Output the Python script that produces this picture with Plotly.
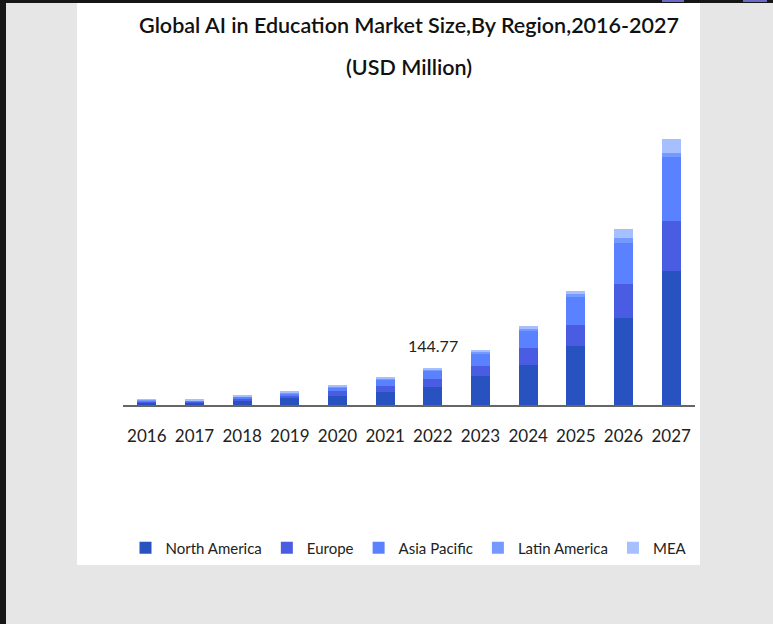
import plotly.graph_objects as go

years = ["2016", "2017", "2018", "2019", "2020", "2021", "2022", "2023", "2024", "2025", "2026", "2027"]
north_america = [10.5, 9.5, 18, 26, 36, 49, 70.5, 112, 155, 228, 339, 521]
europe = [4, 4, 7, 10, 17, 26, 29.5, 39, 65, 84, 129, 194]
asia_pacific = [4, 3.5, 7, 10, 16, 23, 32, 50, 67, 107, 162, 248]
latin_america = [1.3, 1.2, 2, 3, 3, 4, 6, 6, 8, 10, 19, 15.5]
mea = [1.2, 1.3, 2, 3, 3.5, 5, 6.77, 7, 10, 13, 32, 55.5]
series_names = ["North America", "Europe", "Asia Pacific", "Latin America", "MEA"]
series_values = [north_america, europe, asia_pacific, latin_america, mea]
colors = ["#2852C0", "#4A5CE2", "#5A82FF", "#749AFF", "#A6BFFF"]
label_year = "2022"
title_line1 = "Global AI in Education Market Size,By Region,2016-2027"
title_line2 = "(USD Million)"

FONT = "Lato, Roboto, sans-serif"

W_FIG, H_FIG = 773, 624
L, R, T, B = 123, 695, 120, 405
PW, PH = R - L, B - T


def px2x(px):
    return (px - L) / PW


def py2y(py):
    return (B - py) / PH


fig = go.Figure()
for name, vals, col in zip(series_names, series_values, colors):
    fig.add_trace(go.Bar(x=years, y=vals, name=name, marker=dict(color=col, line=dict(width=0))))

idx = years.index(label_year)
total = sum(s[idx] for s in series_values)
fig.add_annotation(xref="x", yref="y", x=idx, y=total, text=f"{total:.2f}", showarrow=False,
                   yanchor="bottom", yshift=11, font=dict(family=FONT, size=16, color="#222"))
fig.add_annotation(xref="paper", yref="paper", x=0.5, y=py2y(67), text=title_line2, showarrow=False,
                   xanchor="center", yanchor="middle",
                   font=dict(family=FONT, size=21.5, color="#111", weight=600))

shapes = [
    dict(type="rect", xref="paper", yref="paper", x0=px2x(77), x1=px2x(700), y0=py2y(565), y1=py2y(3),
         fillcolor="white", line=dict(width=0), layer="below"),
    dict(type="rect", xref="paper", yref="paper", x0=px2x(0), x1=px2x(6), y0=py2y(624), y1=py2y(0),
         fillcolor="#161616", line=dict(width=0), layer="above"),
    dict(type="rect", xref="paper", yref="paper", x0=px2x(0), x1=px2x(773), y0=py2y(3), y1=py2y(0),
         fillcolor="#161616", line=dict(width=0), layer="above"),
    dict(type="rect", xref="paper", yref="paper", x0=px2x(662), x1=px2x(684), y0=py2y(2), y1=py2y(0),
         fillcolor="#6b6bc6", line=dict(width=0), layer="above"),
    dict(type="rect", xref="paper", yref="paper", x0=px2x(743), x1=px2x(767), y0=py2y(2), y1=py2y(0),
         fillcolor="#6b6bc6", line=dict(width=0), layer="above"),
]

fig.update_layout(
    width=W_FIG, height=H_FIG,
    margin=dict(l=L, r=W_FIG - R, t=T, b=H_FIG - B, pad=0),
    paper_bgcolor="#e6e6e6", plot_bgcolor="rgba(0,0,0,0)",
    barmode="stack", bargap=0.6,
    shapes=shapes,
    title=dict(text=title_line1,
               x=0.5, xref="paper", xanchor="center", y=1 - 25 / H_FIG, yref="container", yanchor="middle",
               font=dict(family=FONT, size=21.5, color="#111", weight=600)),
    xaxis=dict(type="category", range=[-0.5, len(years) - 0.5], showline=True, linecolor="#666",
               linewidth=1.5, ticks="", showgrid=False, ticklabelstandoff=15,
               tickfont=dict(family=FONT, size=17, color="#222")),
    yaxis=dict(visible=False, range=[0, PH * 3.88], showgrid=False),
    legend=dict(orientation="h", x=0.5, y=py2y(548), xanchor="center", yanchor="middle",
                font=dict(family=FONT, size=15, color="#222"), bgcolor="rgba(0,0,0,0)",
                traceorder="normal", itemwidth=30),
    showlegend=True,
)

fig.write_html("out.html", config={"displayModeBar": False},
               post_script="document.body.style.margin='0';document.body.style.overflow='hidden';")
